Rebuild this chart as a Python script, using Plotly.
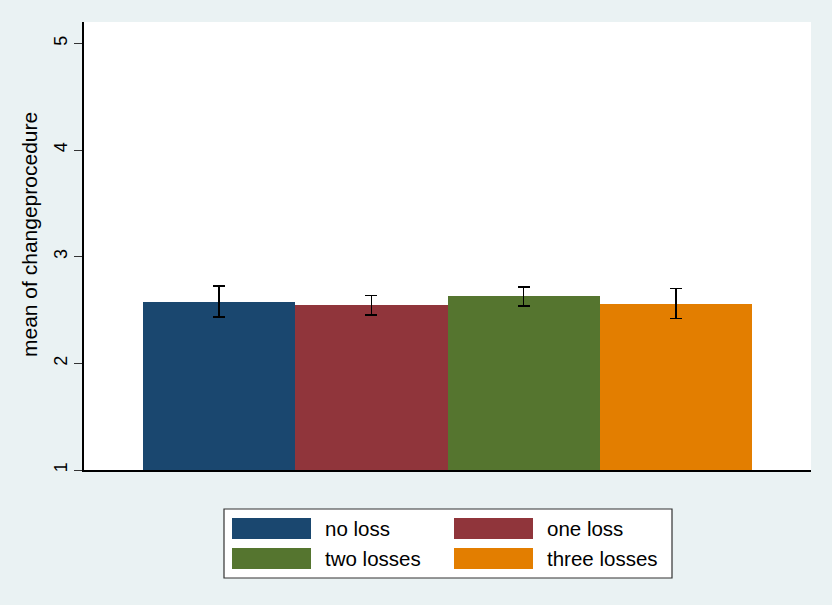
import plotly.graph_objects as go

categories = ["no loss", "one loss", "two losses", "three losses"]
means = [2.577, 2.545, 2.629, 2.560]
errors = [0.145, 0.090, 0.089, 0.141]
colors = ["#1a476f", "#90353b", "#55752f", "#e37e00"]
y_ticks = [1, 2, 3, 4, 5]
y_title = "mean of changeprocedure"

W, H = 832, 605
L, R, T, B = 84, 21, 22, 135
pw, ph = W - L - R, H - T - B

def px_x(x):
    return (x - L) / pw

def px_y(y):
    return (H - B - y) / ph

fig = go.Figure()
fig.add_trace(go.Bar(
    x=list(range(len(categories))), y=means, base=0,
    width=1.0, marker=dict(color=colors, line=dict(width=0)),
    error_y=dict(type="data", array=errors, visible=True,
                 color="black", thickness=1.7, width=6),
    showlegend=False, hoverinfo="skip",
))

# manual legend (Stata style) built from categories/colors
shapes = []
annotations = []
shapes.append(dict(type="rect", xref="paper", yref="paper",
                   x0=px_x(224), x1=px_x(672), y0=px_y(509), y1=px_y(578),
                   fillcolor="white", line=dict(color="#333333", width=1.2)))
col_sw = [232, 454]
col_tx = [323, 545]
row_y = [(518, 539), (548, 569)]
for i, (cat, col) in enumerate(zip(categories, colors)):
    r, c = divmod(i, 2)
    y0, y1 = row_y[r]
    shapes.append(dict(type="rect", xref="paper", yref="paper",
                       x0=px_x(col_sw[c]), x1=px_x(col_sw[c] + 79),
                       y0=px_y(y0), y1=px_y(y1),
                       fillcolor=col, line=dict(width=0)))
    annotations.append(dict(xref="paper", yref="paper",
                            x=px_x(col_tx[c]), y=px_y((y0 + y1) / 2),
                            text=cat, showarrow=False, xanchor="left", yanchor="middle",
                            font=dict(size=20.5, color="black", family="Liberation Sans, Arial")))

# y-axis title (Stata places it slightly above centre)
annotations.append(dict(xref="paper", yref="paper", x=px_x(29), y=px_y(235),
                        text=y_title, textangle=-90, showarrow=False,
                        xanchor="center", yanchor="middle",
                        font=dict(size=21, color="black", family="Liberation Sans, Arial")))

fig.update_layout(
    width=W, height=H,
    margin=dict(l=L, r=R, t=T, b=B),
    paper_bgcolor="#eaf2f3", plot_bgcolor="white",
    font=dict(family="Liberation Sans, Arial", color="black"),
    bargap=0,
    shapes=shapes, annotations=annotations,
    xaxis=dict(range=[-0.5 - 59 / 152, 3.5 + 59 / 152], showticklabels=False,
               ticks="", showgrid=False, zeroline=False,
               showline=True, linecolor="black", linewidth=1.5, fixedrange=True),
    yaxis=dict(range=[1, 5.2], tickvals=y_ticks, ticktext=[str(t) for t in y_ticks],
               tickangle=-90, ticks="outside", ticklen=8, tickwidth=1.3, tickcolor="#333333",
               tickfont=dict(size=18, color="black"), showgrid=False, zeroline=False,
               showline=True, linecolor="black", linewidth=1.5, fixedrange=True),
)

fig.write_html(
    "out.html",
    config={"displayModeBar": False},
    post_script="document.body.style.margin='0';document.body.style.background='#eaf2f3';",
)
